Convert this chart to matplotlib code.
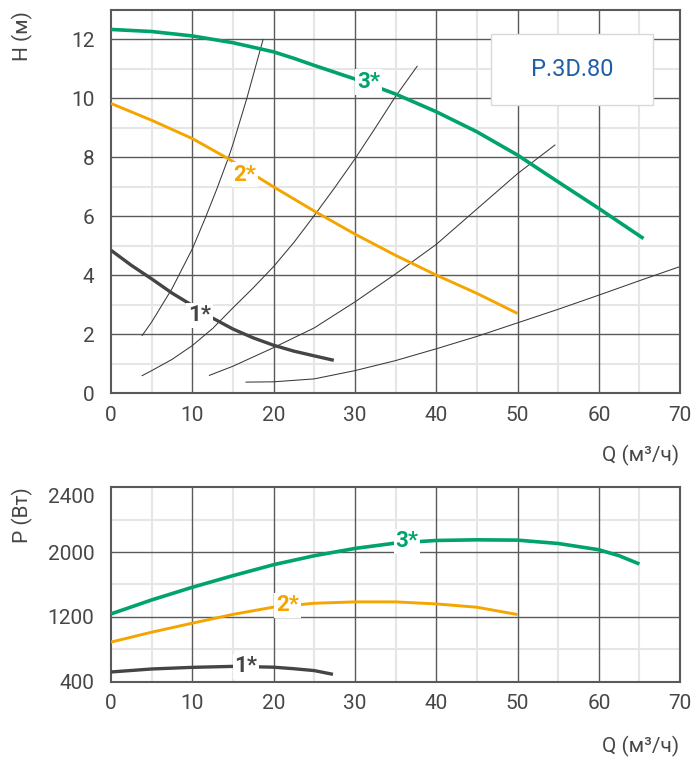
#!/usr/bin/env python

import matplotlib
matplotlib.use("Agg")
import matplotlib.pyplot as plt
from matplotlib.patches import Rectangle

# ---- data ----
# H-Q curves
q1 = [0, 2.5, 5, 7.5, 10, 12.5, 15, 17.5, 20, 22.5, 25, 27.4]
h1 = [4.85, 4.34, 3.88, 3.40, 2.98, 2.55, 2.18, 1.88, 1.63, 1.43, 1.27, 1.12]
q2 = [0, 5, 10, 14.4, 20, 25, 30, 35, 40, 45, 50]
h2 = [9.83, 9.26, 8.64, 7.96, 7.00, 6.18, 5.40, 4.68, 4.01, 3.39, 2.71]
q3 = [0, 5, 10, 15, 20, 22.5, 25, 30, 35, 40, 45, 50, 55, 60, 65.5]
h3 = [12.34, 12.27, 12.12, 11.89, 11.58, 11.36, 11.12, 10.66, 10.15, 9.55, 8.87, 8.08, 7.17, 6.27, 5.25]

# system curves (thin)
sa_q = [3.83, 5.0, 7.5, 10.0, 11.6, 13.0, 14.4, 15.0, 16.7, 17.7, 18.7]
sa_h = [1.96, 2.42, 3.55, 4.90, 5.95, 6.92, 7.96, 8.45, 10.00, 11.00, 12.00]
sb_q = [3.83, 5.0, 7.5, 10.0, 12.5, 15.0, 17.5, 20.0, 22.5, 25.0, 27.5, 30.0, 32.5, 35.0, 37.65]
sb_h = [0.60, 0.77, 1.15, 1.62, 2.20, 2.90, 3.58, 4.30, 5.12, 6.03, 6.97, 7.95, 9.00, 10.07, 11.09]
sc_q = [12.1, 15.0, 20.0, 25.0, 30.0, 35.0, 40.0, 45.0, 50.0, 54.6]
sc_h = [0.61, 0.92, 1.55, 2.22, 3.10, 4.05, 5.05, 6.25, 7.45, 8.42]
sd_q = [16.6, 20.0, 25.0, 30.0, 35.0, 40.0, 45.0, 50.0, 55.0, 60.0, 65.0, 70.0]
sd_h = [0.38, 0.39, 0.49, 0.77, 1.11, 1.51, 1.93, 2.39, 2.85, 3.33, 3.82, 4.30]

# P-Q curves
pq1 = [0, 5, 10, 15, 20, 22.5, 25, 27.3]
p1 = [523, 560, 580, 592, 582, 563, 540, 494]
pq2 = [0, 5, 10, 15, 20, 25, 30, 35, 40, 45, 50]
p2 = [891, 1013, 1124, 1232, 1322, 1369, 1386, 1386, 1361, 1320, 1230]
pq3 = [0, 5, 10, 15, 20, 25, 30, 35, 40, 45, 50, 55, 60, 62.5, 65]
p3 = [1238, 1410, 1566, 1709, 1844, 1954, 2044, 2110, 2142, 2150, 2146, 2105, 2028, 1954, 1852]

# labels of the curves: text, q, value
h_labels = [("1*", 10.9, 2.64), ("2*", 16.45, 7.42), ("3*", 31.7, 10.55)]
p_labels = [("1*", 16.6, 593), ("2*", 21.7, 1344), ("3*", 36.4, 2131)]

p_ticks = [400, 1200, 2000, 2700]
p_ticklabels = ["400", "1200", "2000", "2400"]

GREEN = "#00a36e"
ORANGE = "#f5a500"
DARK = "#454545"
TXT = "#474747"
MAJ = "#5a5a5a"
MIN = "#e6e6e6"

plt.rcParams['font.family'] = ['Roboto', 'DejaVu Sans']


def grid(ax, xmaj, xmin, ymaj, ymin):
    for v in xmin:
        ax.axvline(v, color=MIN, lw=1.5, zorder=0)
    for v in ymin:
        ax.axhline(v, color=MIN, lw=1.5, zorder=0)
    for v in xmaj:
        ax.axvline(v, color=MAJ, lw=1.0, zorder=0.5)
    for v in ymaj:
        ax.axhline(v, color=MAJ, lw=1.0, zorder=0.5)


def style(ax):
    for s in ax.spines.values():
        s.set_color(MAJ)
        s.set_linewidth(1.5)
    ax.tick_params(length=0, labelsize=15, colors=TXT)
    ax.tick_params(axis='y', pad=12)
    ax.tick_params(axis='x', pad=9)
    ax.set_xlim(0, 70)
    ax.set_xticks(range(0, 71, 10))


def main():
    fig = plt.figure(figsize=(6.94, 7.63), dpi=100)
    ax1 = fig.add_axes([0.16, 0.4845, 0.82, 0.5024])
    ax2 = fig.add_axes([0.16, 0.1062, 0.82, 0.2555])

    lab = dict(fontsize=16, fontweight="bold", ha="center", va="center", zorder=4,
               bbox=dict(boxstyle="square,pad=0.08", fc="white", ec="none"))

    # --- H-Q ---
    style(ax1)
    ax1.set_ylim(0, 13)
    ax1.set_yticks(range(0, 13, 2))
    grid(ax1, range(10, 70, 10), range(5, 70, 10), range(2, 13, 2), range(1, 13, 2))
    for q, h in [(sa_q, sa_h), (sb_q, sb_h), (sc_q, sc_h), (sd_q, sd_h)]:
        ax1.plot(q, h, color="#3a3a3a", lw=0.75, zorder=2)
    ax1.plot(q1, h1, color=DARK, lw=2.4, zorder=3, solid_capstyle="butt")
    ax1.plot(q2, h2, color=ORANGE, lw=2.1, zorder=3, solid_capstyle="butt")
    ax1.plot(q3, h3, color=GREEN, lw=2.6, zorder=3, solid_capstyle="butt")
    for (t, q, h), c in zip(h_labels, [DARK, ORANGE, GREEN]):
        ax1.text(q, h, t, color=c, **lab)
    ax1.add_patch(Rectangle((0.668, 0.752), 0.285, 0.185, transform=ax1.transAxes,
                            fc="white", ec="#d9d9d9", lw=1, zorder=5))
    ax1.text(0.81, 0.844, "P.3D.80", transform=ax1.transAxes, color="#1f5fa8", fontsize=17,
             ha="center", va="center", zorder=6)
    fig.text(0.032, 0.985, "H (м)", rotation=90, ha="center", va="top", fontsize=15, color=TXT)
    fig.text(0.978, 0.403, "Q (м³/ч)", ha="right", va="center", fontsize=15, color=TXT)

    # --- P-Q ---
    style(ax2)
    ax2.set_ylim(400, 2800)
    ax2.set_yticks(p_ticks)
    ax2.set_yticklabels(p_ticklabels)
    grid(ax2, range(10, 70, 10), range(5, 70, 10), [1200, 2000], [800, 1600, 2400])
    ax2.plot(pq1, p1, color=DARK, lw=2.4, zorder=3, solid_capstyle="butt")
    ax2.plot(pq2, p2, color=ORANGE, lw=2.1, zorder=3, solid_capstyle="butt")
    ax2.plot(pq3, p3, color=GREEN, lw=2.6, zorder=3, solid_capstyle="butt")
    for (t, q, p), c in zip(p_labels, [DARK, ORANGE, GREEN]):
        ax2.text(q, p, t, color=c, **lab)
    fig.text(0.032, 0.362, "P (Вт)", rotation=90, ha="center", va="top", fontsize=15, color=TXT)
    fig.text(0.978, 0.022, "Q (м³/ч)", ha="right", va="center", fontsize=15, color=TXT)

    fig.savefig("out.png", dpi=100)


if __name__ == "__main__":
    main()
